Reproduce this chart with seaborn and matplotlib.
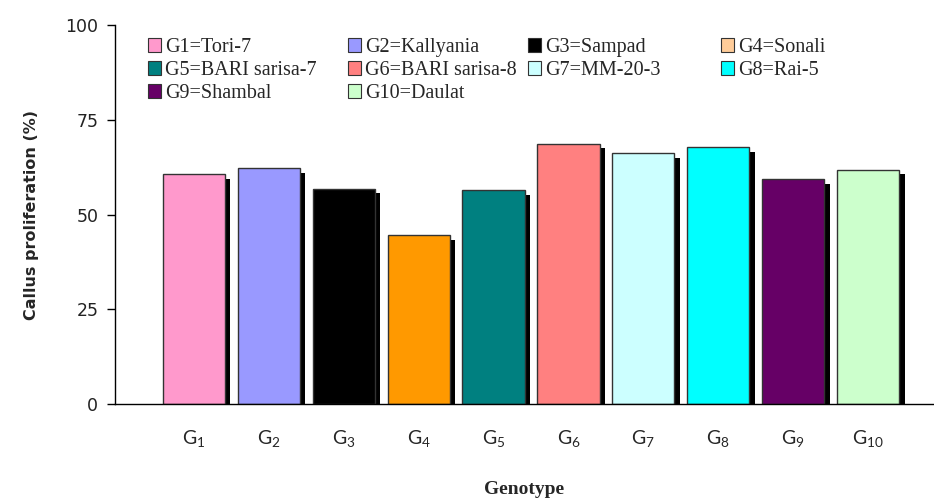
import matplotlib
matplotlib.use("Agg")
import matplotlib.pyplot as plt
import matplotlib.transforms as mtransforms
from matplotlib.patches import Patch
import seaborn as sns
import pandas as pd

# data
genotypes = ["G1", "G2", "G3", "G4", "G5", "G6", "G7", "G8", "G9", "G10"]
names = ["Tori-7", "Kallyania", "Sampad", "Sonali", "BARI sarisa-7",
         "BARI sarisa-8", "MM-20-3", "Rai-5", "Shambal", "Daulat"]
callus = [60.7, 62.3, 56.8, 44.6, 56.4, 68.7, 66.1, 67.8, 59.4, 61.8]
tick_labels = ["G$_{1}$", "G$_{2}$", "G$_{3}$", "G$_{4}$", "G$_{5}$",
               "G$_{6}$", "G$_{7}$", "G$_{8}$", "G$_{9}$", "G$_{10}$"]

bar_colors = ["#FF99CC", "#9999FF", "#000000", "#FF9900", "#008080",
              "#FF8080", "#CCFFFF", "#00FFFF", "#660066", "#CCFFCC"]
legend_colors = ["#FF99CC", "#9999FF", "#000000", "#FFCC99", "#008080",
                 "#FF8080", "#CCFFFF", "#00FFFF", "#660066", "#CCFFCC"]

df = pd.DataFrame({"genotype": genotypes, "callus": callus})

sns.set_style("white")
plt.rcParams["mathtext.fontset"] = "custom"
plt.rcParams["mathtext.rm"] = "Lato"
plt.rcParams["mathtext.it"] = "Lato"

fig = plt.figure(figsize=(9.34, 5.0), dpi=100)
ax = fig.add_axes([115 / 934, 1 - 404 / 500, 1 - 115 / 934, (404 - 25) / 500])

# shadow bars (black, shifted right/down)
sns.barplot(data=df, x="genotype", y="callus", color="black", width=0.83,
            ax=ax, zorder=1, saturation=1, linewidth=0)
shift = mtransforms.ScaledTranslation(0.055, -0.047, fig.dpi_scale_trans)
for p in ax.patches:
    p.set_transform(ax.transData + shift)

# main bars
sns.barplot(data=df, x="genotype", y="callus", hue="genotype",
            palette=bar_colors, width=0.83, ax=ax, zorder=2, saturation=1,
            edgecolor="#333333", linewidth=1.0, legend=False)

ax.set_xlim(-1.053, 9.88)
ax.set_ylim(0, 100)
ax.set_yticks([0, 25, 50, 75, 100])
ax.tick_params(axis="y", direction="out", length=6, width=1, color="black",
               labelsize=12.5, pad=6, left=True)
for t in ax.get_yticklabels():
    t.set_fontfamily("DejaVu Sans")
    t.set_color("#222222")

ax.set_xticks(range(len(genotypes)))
ax.set_xticklabels(tick_labels, fontfamily="Lato", fontsize=14)
ax.tick_params(axis="x", length=0, pad=17, bottom=True)
ax.set_xticks([-1.053], minor=True)
ax.tick_params(axis="x", which="minor", direction="out", length=7, width=1,
               color="black")

for s in ["top", "right"]:
    ax.spines[s].set_visible(False)
for s in ["left", "bottom"]:
    ax.spines[s].set_color("black")
    ax.spines[s].set_linewidth(1)

ax.set_xlabel("Genotype", fontfamily="Liberation Serif", fontweight="bold",
              fontsize=14, labelpad=23)
ax.set_ylabel("Callus proliferation (%)", fontfamily="DejaVu Sans",
              fontweight="bold", fontsize=11.5, labelpad=19)

# legend: four fixed-position columns, filled row by row like the reference
handles = [Patch(facecolor=c, edgecolor="#333333", linewidth=0.8)
           for c in legend_colors]
labels = [f"{g}={n}" for g, n in zip(genotypes, names)]
col_x = [138, 338, 518, 711]
for j, x0 in enumerate(col_x):
    idx = list(range(j, len(labels), 4))
    leg = ax.legend([handles[i] for i in idx], [labels[i] for i in idx],
                    ncol=1, loc="upper left",
                    bbox_to_anchor=(x0 / 934, 1 - 28 / 500),
                    bbox_transform=fig.transFigure, frameon=False, borderpad=0,
                    handlelength=0.65, handleheight=0.65, handletextpad=0.2,
                    labelspacing=0.2,
                    prop={"family": "Liberation Serif", "size": 14.5})
    if j < len(col_x) - 1:
        ax.add_artist(leg)

fig.savefig("out.png", dpi=100)
